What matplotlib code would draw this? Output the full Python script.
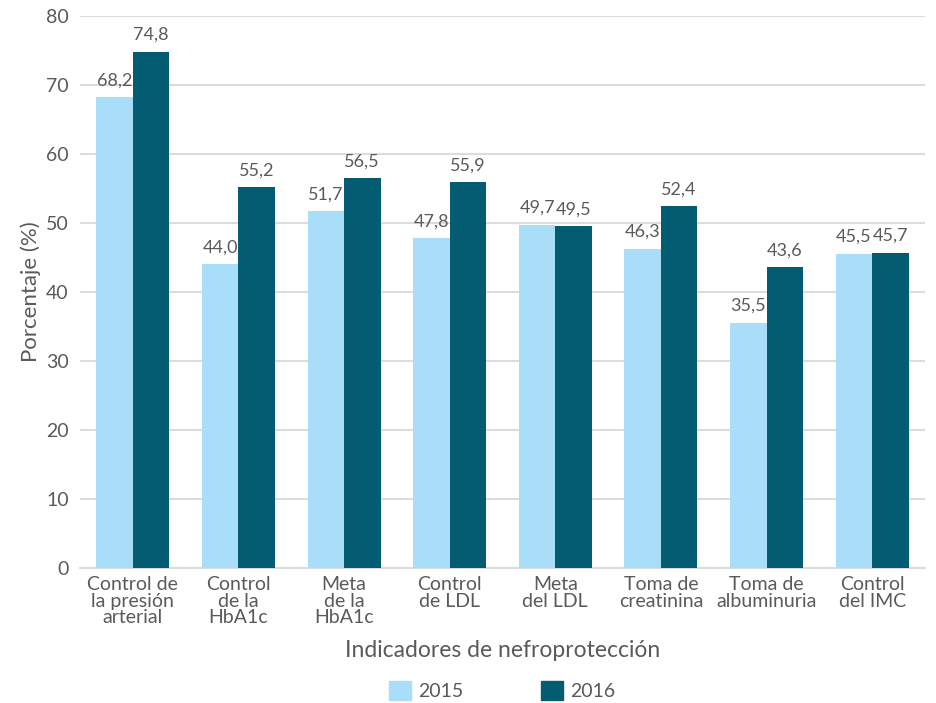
import numpy as np
import matplotlib.pyplot as plt
from matplotlib.patches import Patch

plt.rcParams['font.family'] = ['Lato', 'DejaVu Sans']

categorias = ["Control de\nla presión\narterial", "Control\nde la\nHbA1c", "Meta\nde la\nHbA1c",
              "Control\nde LDL", "Meta\ndel LDL", "Toma de\ncreatinina",
              "Toma de\nalbuminuria", "Control\ndel IMC"]
valores_2015 = [68.2, 44.0, 51.7, 47.8, 49.7, 46.3, 35.5, 45.5]
valores_2016 = [74.8, 55.2, 56.5, 55.9, 49.5, 52.4, 43.6, 45.7]
anios = ["2015", "2016"]

c_claro = "#A8DEF7"
c_oscuro = "#045C73"
gris = "#5A5A5A"

fig = plt.figure(figsize=(9.36, 7.03), dpi=100)
ax = fig.add_axes([80 / 936, 135 / 703, 845 / 936, 552 / 703])

x = np.arange(len(categorias))
w = 0.345
b1 = ax.bar(x - w / 2, valores_2015, w, color=c_claro, zorder=3)
b2 = ax.bar(x + w / 2, valores_2016, w, color=c_oscuro, zorder=3)

def fmt(v):
    return f"{v:.1f}".replace(".", ",")

for barras, vals in [(b1, valores_2015), (b2, valores_2016)]:
    for r, v in zip(barras, vals):
        ax.text(r.get_x() + r.get_width() / 2, v + 1.3, fmt(v), ha="center", va="bottom",
                fontsize=13, color=gris)

ax.set_xlim(-0.5, 7.5)
ax.set_ylim(0, 80)
ax.set_yticks(range(0, 81, 10))
ax.yaxis.grid(True, color="#DCDCDC", linewidth=1.5, zorder=0)
ax.set_axisbelow(True)
for s in ["top", "right", "left"]:
    ax.spines[s].set_visible(False)
ax.spines["bottom"].set_color("#DCDCDC")
ax.spines["bottom"].set_linewidth(1.5)
ax.tick_params(axis="both", length=0, colors=gris, labelsize=14)
ax.tick_params(axis="y", pad=8)
ax.tick_params(axis="x", pad=6)
ax.set_xticks(x)
ax.set_xticklabels(categorias, linespacing=0.95)

ax.set_ylabel("Porcentaje (%)", fontsize=16, color=gris, labelpad=4)
ax.set_xlabel("Indicadores de nefroprotección", fontsize=16.5, color=gris, labelpad=10)

handles = [Patch(color=c_claro), Patch(color=c_oscuro)]
fig.legend(handles, anios, loc="center", bbox_to_anchor=(502 / 936, 0.018), ncol=2, frameon=False,
           fontsize=14, labelcolor=gris, handlelength=1.15, handleheight=1.15,
           columnspacing=4.0, handletextpad=0.35)

fig.savefig("out.png", dpi=100)
